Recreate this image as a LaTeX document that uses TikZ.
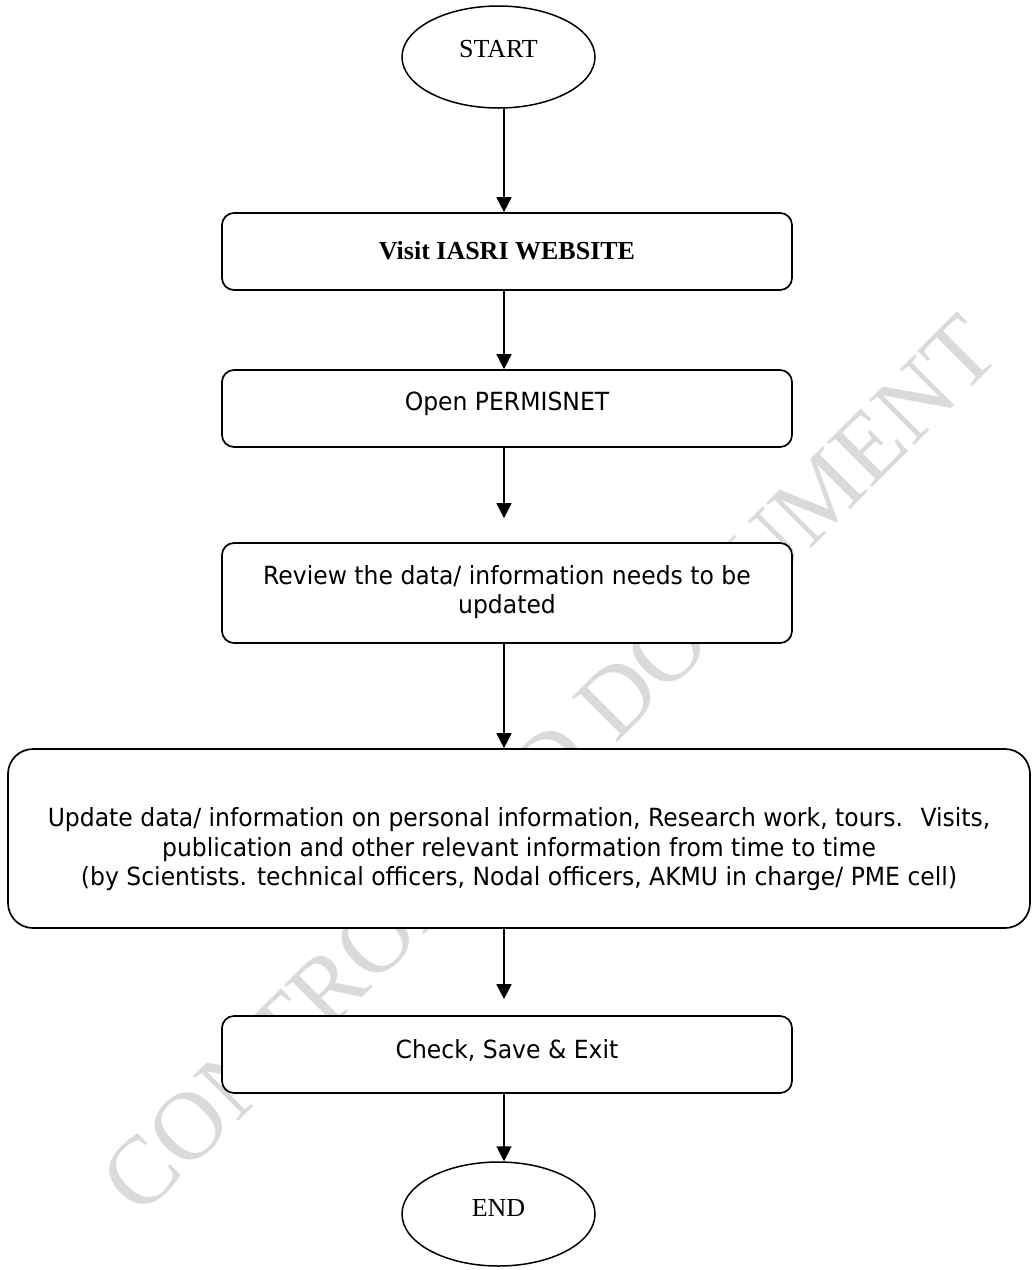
\documentclass[tikz,border=0pt]{standalone}
\usepackage{fontspec}
\setmainfont{Liberation Serif}
\newfontfamily\boxfont[FakeStretch=0.94]{DejaVu Sans}
\usetikzlibrary{arrows.meta,shapes.geometric}
\definecolor{wmark}{HTML}{DADADA}
\newcommand{\lines}[1]{\begin{tabular}{@{}c@{}}#1\end{tabular}}
\begin{document}
\begin{tikzpicture}[x=1pt,y=-1pt,
  every node/.style={inner sep=0pt},
  terminal/.style={draw,ellipse,line width=1.5pt,fill=white,
    minimum width=193pt,minimum height=102pt,
    font=\fontsize{26}{30}\selectfont},
  stepbox/.style={draw,rectangle,rounded corners=12pt,line width=1.7pt,
    fill=white,minimum width=570pt,
    font=\boxfont\fontsize{25}{29.5}\selectfont},
  boxtext/.style={font=\boxfont\fontsize{25}{29.5}\selectfont},
  flow/.style={line width=1.7pt,-{Triangle[length=15pt,width=15pt]}}]
\useasboundingbox (0,0) rectangle (1033,1270);

% watermark behind the chart
\node[rotate=45,text=wmark,font=\fontsize{97}{97}\selectfont] (wm) at (550,765) {CONTROLLED DOCUMENT};

\coordinate (axis) at (504,0);

\node[terminal] (start) at (498.5,57) {\raisebox{17pt}{START}};
\node[stepbox,minimum height=77pt,font=\fontsize{26}{30}\selectfont\bfseries] (visit) at (507,251.5) {\raisebox{3pt}{Visit IASRI WEBSITE}};
\node[stepbox,minimum height=77pt] (open) at (507,408.5) {\raisebox{14pt}{Open PERMISNET}};
\node[stepbox,minimum height=100pt] (review) at (507,593) {\lines{Review the data/ information needs to be\\updated}};
\node[stepbox,minimum width=1022pt,minimum height=179pt,rounded corners=25pt] (update) at (519,838.5) {};
\node[boxtext,yshift=-12pt] (updatetext) at (update.center)
  {\lines{Update data/ information on personal information, Research work, tours.~ Visits,\\
  publication and other relevant information from time to time\\
  (by Scientists. technical officers, Nodal officers, AKMU in charge/ PME cell)}};
\node[stepbox,minimum height=77pt] (check) at (507,1054.5) {\raisebox{12pt}{Check, Save \& Exit}};
\node[terminal,minimum height=104pt] (end) at (498.5,1214) {\raisebox{13pt}{END}};

\draw[flow] (start.south -| axis) -- (visit.north -| axis);
\draw[flow] (visit.south -| axis) -- (open.north -| axis);
\draw[flow,shorten >=24pt] (open.south -| axis) -- (review.north -| axis);
\draw[flow] (review.south -| axis) -- (update.north -| axis);
\draw[flow,shorten >=16pt] (update.south -| axis) -- (check.north -| axis);
\draw[flow] (check.south -| axis) -- (end.north -| axis);
\end{tikzpicture}
\end{document}
